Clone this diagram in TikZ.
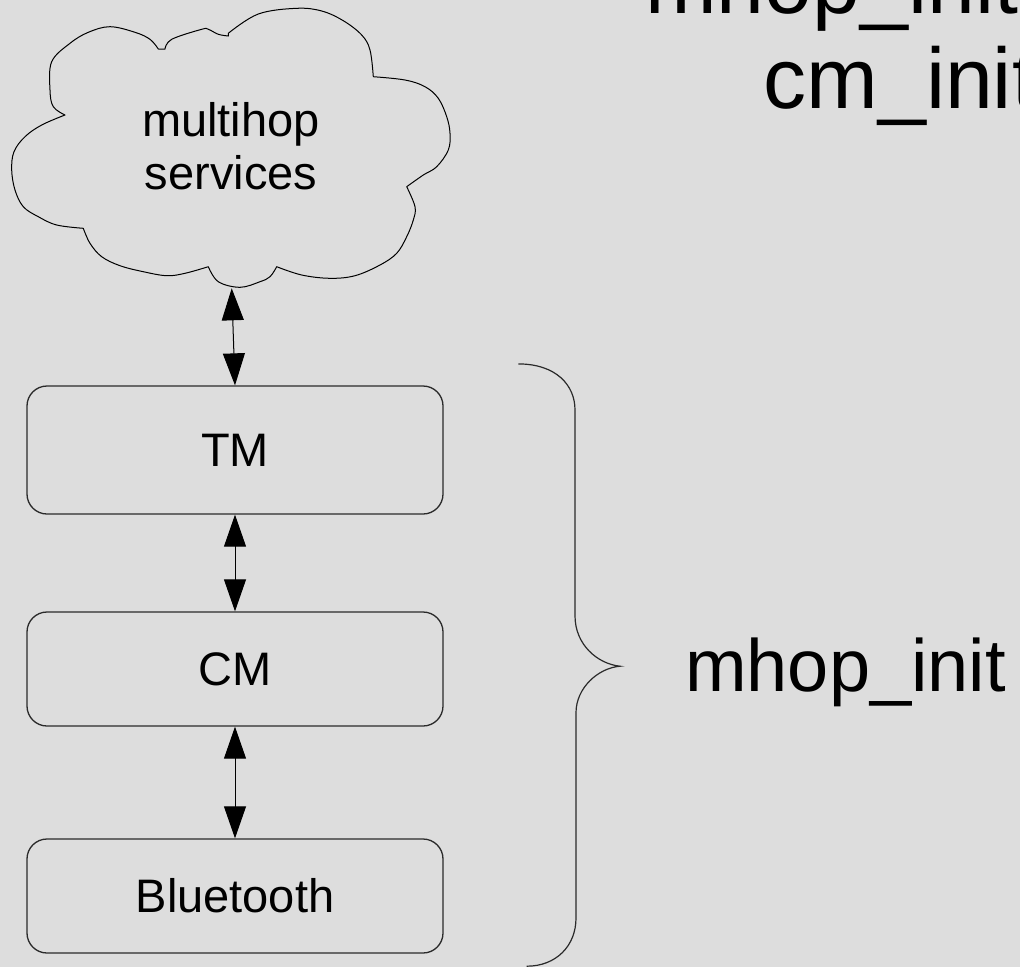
\documentclass[tikz,border=0pt]{standalone}
\usepackage{fontspec}
\setmainfont{Liberation Sans}
\usetikzlibrary{arrows.meta}
\definecolor{bg}{HTML}{DDDDDD}
\definecolor{edge}{HTML}{2A2A2A}
\begin{document}
\begin{tikzpicture}[x=1pt,y=-1pt,
  layer/.style={draw=edge, line width=1.3pt, rounded corners=20pt,
    minimum width=416pt, inner sep=0pt, font=\fontsize{47}{53}\selectfont},
  link/.style={{Triangle[length=32pt,width=22pt]}-{Triangle[length=32pt,width=22pt]},
    line width=1pt, draw=black},
  bigtext/.style={font=\fontsize{86}{95}\selectfont, inner sep=0pt, anchor=base west},
  midtext/.style={font=\fontsize{74}{82}\selectfont, inner sep=0pt, anchor=base west},
  outline/.style={draw=black, line width=1pt, line join=round},
  bracestyle/.style={draw=edge, line width=1.2pt}]
\useasboundingbox[fill=bg] (0,0) rectangle (1020,967);

% cloud outline
\draw[outline] (65,115)
  -- plot[smooth, tension=0.6] coordinates {(65,115) (53.3,106.7) (50,90) (51.7,61.7) (70,43.3) (88.3,32.3) (110,26.7) (135,32.3) (150,39.3) (158.3,49)}
  -- (165,49)
  -- plot[smooth, tension=0.6] coordinates {(165,49) (171.7,39.3) (201.7,29.3) (208.3,29.3) (218.3,34.3) (228.3,36)}
  -- (228.3,33.3)
  -- plot[smooth, tension=0.6] coordinates {(228.3,33.3) (258.3,14) (296.7,8.3) (321.7,11) (343.3,20.7) (361.7,35) (370,50) (373.3,76.7)}
  -- plot[smooth, tension=0.6] coordinates {(373.3,76.7) (405,80) (425,86.7) (438.3,98.3) (446.7,116.7) (450,133.3) (448.3,150) (436.7,166.7) (423.3,175) (406.7,186.7)}
  -- plot[smooth, tension=0.6] coordinates {(406.7,186.7) (415,206.7) (413.3,220) (406.7,236.7) (396.7,253.3) (380,265) (355,275.7) (330,278.3) (301.7,275) (276.7,266.7)}
  -- plot[smooth, tension=0.6] coordinates {(276.7,266.7) (270,276.7) (260,281.7) (240,287.3) (218.3,281.7) (208.3,266.7)}
  -- plot[smooth, tension=0.6] coordinates {(208.3,266.7) (185,273.3) (166.7,275.7) (143.3,271.7) (120,265.7) (101.7,256.7) (90,243.3) (83.3,228.3)}
  -- plot[smooth, tension=0.6] coordinates {(83.3,228.3) (56.7,225) (38.3,216.7) (23.3,206.7) (15,190) (11.7,170) (14,151.7) (25,136.7) (41.7,125) (65,115)}
  -- cycle;
\node[align=center, inner sep=0pt, font=\fontsize{47}{53}\selectfont] (cloudtxt) at (231,146.5) {multihop\\services};
\coordinate (cloudbot) at (231.7,288.3);

% layers
\node[layer, minimum height=128pt] (tm) at (235,450) {TM};
\node[layer, minimum height=114pt] (cm) at (235,669) {CM};
\node[layer, minimum height=114pt] (bt) at (235,896) {Bluetooth};

% connectors
\draw[link] (cloudbot) -- (tm.north);
\draw[link] (tm.south) -- (cm.north);
\draw[link] (cm.south) -- (bt.north);

% brace
\coordinate (btop) at (518.3,363.9);
\coordinate (btip) at (620,666.2);
\coordinate (bbot) at (526.7,966.2);
\draw[bracestyle] (btop) .. controls (556,364) and (575,385) .. (575,410)
  -- (575,615.8) .. controls (575,645) and (598,664) .. (btip)
  .. controls (598,668) and (576,688) .. (576,712.7)
  -- (576,918) .. controls (576,946) and (556,966.2) .. (bbot);

% labels
\node[midtext] (mhop) at (685,691.7) {mhop\_init};
\node[bigtext] (topmhop) at (645,13.3) {mhop\_init};
\node[bigtext] (cminit) at (763.4,108.3) {cm\_init};
\end{tikzpicture}
\end{document}
